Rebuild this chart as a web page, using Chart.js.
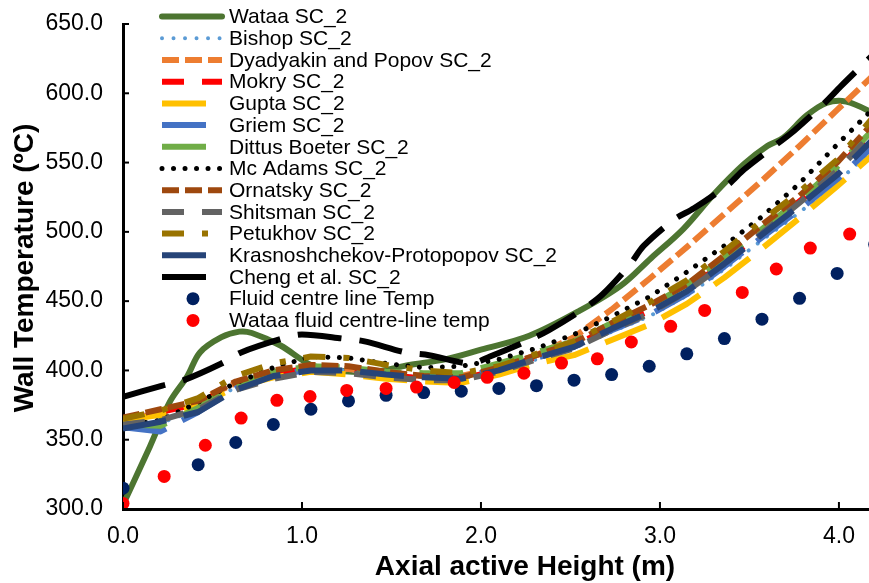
<!DOCTYPE html>
<html>
<head>
<meta charset="utf-8">
<script src="https://cdn.jsdelivr.net/npm/chart.js@4.4.1/dist/chart.umd.min.js"></script>
<style>
html,body{margin:0;padding:0;background:#fff;overflow:hidden;}
#wrap{width:869px;height:583px;position:relative;}
canvas{display:block;}
</style>
</head>
<body>
<div id="wrap"><canvas id="c" width="869" height="583"></canvas></div>
<script>
// ---------- DATA ----------
const xGrid = [0, 0.21, 0.42, 0.63, 0.84, 1.05, 1.26, 1.47, 1.68, 1.89, 2.10, 2.31, 2.52, 2.73, 2.94, 3.15, 3.36, 3.57, 3.78, 3.99, 4.20];

const wataaX = [0, 0.15, 0.26, 0.36, 0.43, 0.55, 0.65, 0.72, 0.88, 1.05, 1.2, 1.4, 1.6, 1.8, 2.0, 2.27, 2.55, 2.78, 2.95, 3.13, 3.3, 3.47, 3.6, 3.69, 3.82, 3.93, 4.04, 4.17, 4.25];
const wataaY = [303, 345, 377, 396, 413, 424, 428, 427, 418, 404, 400, 399, 404, 408, 415, 425, 443, 461, 481, 502, 527, 549, 562, 568, 584, 593, 594, 587, 580];

const bishop    = [360, 362, 372, 388, 396, 401, 400, 397, 395, 394, 400, 408, 416, 428, 439, 454, 473, 494, 514, 536, 560];
const dyadyakin = [363, 370, 378, 391, 398, 402, 401, 398, 396, 396, 402, 411, 424, 444, 466, 489, 513, 537, 562, 588, 614];
const mokry     = [365, 370, 376, 390, 397, 402, 401, 397, 394, 394, 400, 410, 418, 431, 443, 458, 478, 500, 522, 545, 574];
const gupta     = [364, 368, 375, 388, 395, 399, 397, 394, 392, 391, 397, 405, 411, 422, 433, 448, 467, 488, 510, 533, 557];
const griem     = [359, 356, 370, 387, 396, 401, 400, 398, 396, 395, 401, 409, 417, 429, 440, 455, 475, 496, 516, 538, 563];
const dittus    = [361, 360, 373, 390, 399, 403, 402, 399, 398, 398, 405, 413, 421, 434, 446, 462, 481, 502, 523, 547, 575];
const mcadams   = [360, 364, 377, 391, 402, 410, 409, 405, 402, 403, 408, 416, 426, 439, 453, 471, 490, 511, 535, 563, 590];
const ornatsky  = [366, 372, 378, 392, 400, 404, 403, 399, 396, 395, 402, 411, 420, 434, 447, 462, 483, 505, 526, 550, 580];
const shitsman  = [361, 364, 372, 386, 394, 399, 398, 395, 393, 393, 399, 408, 416, 429, 441, 457, 477, 499, 521, 544, 573];
const petukhov  = [365, 371, 380, 396, 405, 410, 409, 404, 400, 398, 403, 412, 421, 435, 449, 465, 486, 508, 529, 552, 584];
const krasno    = [358, 363, 370, 386, 396, 400, 400, 397, 395, 394, 400, 409, 417, 430, 442, 457, 477, 498, 519, 541, 568];

const chengX = [0, 0.22, 0.34, 0.55, 0.66, 0.89, 1.0, 1.23, 1.35, 1.58, 1.71, 1.94, 2.05, 2.27, 2.38, 2.58, 2.68, 2.83, 2.91, 3.08, 3.19, 3.38, 3.47, 3.66, 3.75, 3.92, 4.01, 4.16, 4.2];
const chengY = [381, 389, 393, 405, 413, 423, 426, 423, 421, 413, 411, 405, 410, 422, 429, 445, 455, 476, 490, 509, 517, 534, 545, 564, 573, 593, 605, 624, 629];

const fluidX = [0, 0.42, 0.63, 0.84, 1.05, 1.26, 1.47, 1.68, 1.89, 2.10, 2.31, 2.52, 2.73, 2.94, 3.15, 3.36, 3.57, 3.78, 3.99, 4.20];
const fluidY = [315, 332, 348, 361, 372, 378, 382, 384, 385, 387, 389, 393, 397, 403, 412, 423, 437, 452, 470, 491];

const wFluidX = [0, 0.23, 0.46, 0.66, 0.86, 1.045, 1.25, 1.47, 1.64, 1.85, 2.035, 2.24, 2.45, 2.65, 2.84, 3.06, 3.25, 3.46, 3.65, 3.84, 4.06];
const wFluidY = [304, 323.5, 346, 365.6, 378.4, 381.2, 385.6, 387, 388, 391.3, 395, 398, 405.3, 408.4, 420.5, 431.8, 443.3, 456.3, 473.2, 488.3, 498.4];

const seriesNames = ["Wataa SC_2", "Bishop SC_2", "Dyadyakin and Popov SC_2", "Mokry SC_2", "Gupta SC_2", "Griem SC_2", "Dittus Boeter SC_2", "Mc Adams SC_2", "Ornatsky SC_2", "Shitsman SC_2", "Petukhov SC_2", "Krasnoshchekov-Protopopov SC_2", "Cheng et al. SC_2", "Fluid centre line Temp", "Wataa fluid centre-line temp"];
const xTicks = [0, 1, 2, 3, 4];
const yTicks = [300, 350, 400, 450, 500, 550, 600, 650];
const xTitle = "Axial active Height (m)";
const yTitle = "Wall Temperature (ºC)";

// ---------- BUILD ----------
const xy = (xs, ys) => xs.map((x, i) => ({x: x, y: ys[i]}));
const FONT = "'Liberation Sans', Arial, Helvetica, sans-serif";

function lineDs(label, data, color, width, dash, cap) {
  return {label, data, showLine: true, borderColor: color, backgroundColor: color,
    borderWidth: width, borderDash: dash, borderCapStyle: cap || 'butt', borderJoinStyle: 'round',
    pointRadius: 0, pointHoverRadius: 0, fill: false, tension: 0, _kind: 'line'};
}
function markDs(label, data, color) {
  return {label, data, showLine: false, borderColor: color, backgroundColor: color,
    borderWidth: 0, pointRadius: 6.5, pointHoverRadius: 6.5, _kind: 'mark'};
}

const LONG = [44, 18], DASH = [22, 18], SYS = [17, 6], DOT = [0.01, 11.5];
const datasets = [
  Object.assign(lineDs(seriesNames[0], xy(wataaX, wataaY), '#4d7531', 6, [], 'round'), {tension: 0.35}),
  lineDs(seriesNames[1], xy(xGrid, bishop), '#5b9bd5', 4, DOT, 'round'),
  lineDs(seriesNames[2], xy(xGrid, dyadyakin), '#ed7d31', 6, SYS),
  lineDs(seriesNames[3], xy(xGrid, mokry), '#ff0000', 6, DASH),
  lineDs(seriesNames[4], xy(xGrid, gupta), '#ffc000', 6, LONG),
  lineDs(seriesNames[5], xy(xGrid, griem), '#4472c4', 6, LONG),
  lineDs(seriesNames[6], xy(xGrid, dittus), '#70ad47', 6, LONG),
  lineDs(seriesNames[7], xy(xGrid, mcadams), '#000000', 5, DOT, 'round'),
  lineDs(seriesNames[8], xy(xGrid, ornatsky), '#9e480e', 6, SYS),
  lineDs(seriesNames[9], xy(xGrid, shitsman), '#636363', 6, DASH),
  lineDs(seriesNames[10], xy(xGrid, petukhov), '#997300', 6, [22, 18, 6, 18]),
  lineDs(seriesNames[11], xy(xGrid, krasno), '#264478', 6, LONG),
  Object.assign(lineDs(seriesNames[12], xy(chengX, chengY), '#000000', 6, LONG), {tension: 0.3}),
  markDs(seriesNames[13], xy(fluidX, fluidY), '#002060'),
  markDs(seriesNames[14], xy(wFluidX, wFluidY), '#ff0000')
];
datasets.forEach((d, i) => { d.order = datasets.length - i; });

const decor = {
  id: 'decor',
  beforeDraw(chart) {
    const c = chart.ctx;
    c.save(); c.fillStyle = '#fff'; c.fillRect(0, 0, chart.width, chart.height); c.restore();
  },
  afterDraw(chart) {
    const c = chart.ctx, a = chart.chartArea;
    const xs = chart.scales.x, ys = chart.scales.y;
    c.save();
    // inner tick marks
    c.strokeStyle = '#000'; c.lineWidth = 2; c.setLineDash([]);
    yTicks.forEach(v => {
      const y = ys.getPixelForValue(v);
      c.beginPath(); c.moveTo(a.left, y); c.lineTo(a.left + 6, y); c.stroke();
    });
    xTicks.forEach(v => {
      const x = xs.getPixelForValue(v);
      c.beginPath(); c.moveTo(x, a.bottom); c.lineTo(x, a.bottom - 7); c.stroke();
    });
    // axis titles
    c.fillStyle = '#000';
    c.font = "bold 28px " + FONT;
    c.textAlign = 'center'; c.textBaseline = 'alphabetic';
    c.fillText(xTitle, 525, 575);
    c.save();
    c.translate(33, 268); c.rotate(-Math.PI / 2);
    c.fillText(yTitle, 0, 0);
    c.restore();
    // legend
    const x0 = 162, x1 = 222, tx = 229, y0 = 16.6, dy = 21.7;
    c.font = "21px " + FONT;
    c.textAlign = 'left'; c.textBaseline = 'middle';
    chart.data.datasets.forEach((d, i) => {
      const y = y0 + i * dy;
      if (d._kind === 'line') {
        c.save();
        c.strokeStyle = d.borderColor; c.lineWidth = d.borderWidth;
        c.lineCap = d.borderCapStyle; c.setLineDash(d.borderDash || []);
        c.beginPath(); c.moveTo(x0, y); c.lineTo(x1, y); c.stroke();
        c.restore();
      } else {
        c.beginPath(); c.fillStyle = d.backgroundColor;
        c.arc((x0 + x1) / 2 + 1, y, d.pointRadius, 0, Math.PI * 2); c.fill();
      }
      c.fillStyle = '#000';
      c.fillText(d.label, tx, y + 1);
    });
    c.restore();
  }
};

Chart.defaults.font.family = FONT;
Chart.defaults.color = '#000';

new Chart(document.getElementById('c'), {
  type: 'scatter',
  data: {datasets},
  plugins: [decor],
  options: {
    responsive: false, animation: false, devicePixelRatio: 1,
    layout: {autoPadding: false, padding: {left: 0, right: 0, top: 24, bottom: 0}},
    plugins: {legend: {display: false}, tooltip: {enabled: false}, title: {display: false}},
    scales: {
      x: {
        type: 'linear', min: 0, max: 4.168,
        grid: {display: false, tickLength: 14},
        border: {display: true, color: '#000', width: 3},
        ticks: {stepSize: 1, includeBounds: false, font: {size: 23}, padding: 0,
          callback: v => Number(v).toFixed(1)},
        afterFit: s => { s.height = 74; s.paddingRight = 0; }
      },
      y: {
        type: 'linear', min: 300, max: 650,
        grid: {display: false, tickLength: 10},
        border: {display: true, color: '#000', width: 3},
        ticks: {stepSize: 50, font: {size: 23}, padding: 10,
          callback: v => Number(v).toFixed(1)},
        afterFit: s => { s.width = 123; }
      }
    }
  }
});
</script>
</body>
</html>
